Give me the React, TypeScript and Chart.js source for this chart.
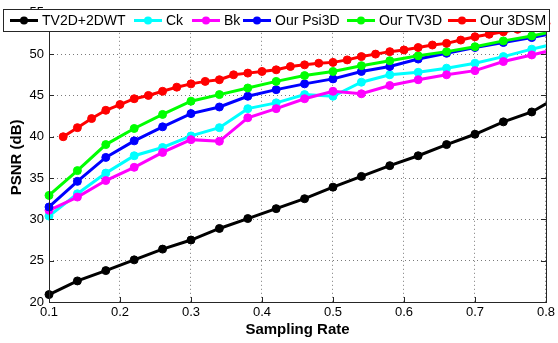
import React, { useEffect, useRef } from 'react';
import { Chart, registerables } from 'chart.js';

Chart.register(...registerables);

const FONT = '"Liberation Sans", Arial, Helvetica, sans-serif';

// Sampling rates (x) shared by the five 0.04-step series (last one lies just past the axis edge)
const rates = [0.10, 0.14, 0.18, 0.22, 0.26, 0.30, 0.34, 0.38, 0.42, 0.46, 0.50, 0.54, 0.58, 0.62, 0.66, 0.70, 0.74, 0.78, 0.82];
const tv2d2dwt = [20.9, 22.55, 23.8, 25.1, 26.4, 27.5, 28.9, 30.1, 31.3, 32.5, 33.9, 35.2, 36.5, 37.7, 39.05, 40.3, 41.8, 43.0, 45.0];
const ck = [30.4, 33.1, 35.6, 37.7, 38.7, 40.1, 41.1, 43.4, 44.1, 45.1, 44.9, 46.6, 47.5, 47.8, 48.3, 48.9, 49.7, 50.6, 51.4];
const bk = [31.1, 32.7, 34.7, 36.3, 38.1, 39.65, 39.45, 42.3, 43.4, 44.6, 45.5, 45.2, 46.2, 46.9, 47.5, 48.0, 49.1, 49.9, 50.7];
const psi3d = [31.5, 34.6, 37.5, 39.5, 41.2, 42.8, 43.6, 44.9, 45.7, 46.4, 47.0, 47.9, 48.5, 49.4, 50.1, 50.8, 51.4, 52.0, 52.7];
const tv3d = [32.9, 35.9, 39.05, 41.0, 42.7, 44.3, 45.1, 45.9, 46.7, 47.4, 47.9, 48.6, 49.2, 49.8, 50.3, 50.9, 51.6, 52.2, 52.9];

// Our 3DSM uses a 0.02 step starting at 0.12
const ratesSM = [0.12, 0.14, 0.16, 0.18, 0.20, 0.22, 0.24, 0.26, 0.28, 0.30, 0.32, 0.34, 0.36, 0.38, 0.40, 0.42, 0.44, 0.46, 0.48, 0.50, 0.52, 0.54, 0.56, 0.58, 0.60, 0.62, 0.64, 0.66, 0.68, 0.70, 0.72, 0.74, 0.76, 0.78, 0.80];
const sm3d = [40.0, 41.1, 42.2, 43.2, 43.9, 44.6, 45.0, 45.5, 46.0, 46.4, 46.7, 46.9, 47.5, 47.7, 47.9, 48.1, 48.5, 48.7, 48.9, 49.0, 49.3, 49.7, 50.0, 50.3, 50.5, 50.8, 51.1, 51.3, 51.7, 52.1, 52.4, 52.7, 53.0, 53.3, 53.7];

const seriesNames = ['TV2D+2DWT', 'Ck', 'Bk', 'Our Psi3D', 'Our TV3D', 'Our 3DSM'];
const seriesColors = ['#000000', '#00FFFF', '#FF00FF', '#0000FF', '#00FF00', '#FF0000'];
const seriesX = [rates, rates, rates, rates, rates, ratesSM];
const seriesY = [tv2d2dwt, ck, bk, psi3d, tv3d, sm3d];

const xTicks = [0.1, 0.2, 0.3, 0.4, 0.5, 0.6, 0.7, 0.8];
const yTicks = [20, 25, 30, 35, 40, 45, 50, 55];

const AXIS_COLOR = '#262626';

const framePlugin = {
  id: 'frameAndLegend',
  afterDraw(chart: any) {
    const { ctx, chartArea: a, scales } = chart;
    ctx.save();
    // axes box
    ctx.strokeStyle = AXIS_COLOR;
    ctx.lineWidth = 1;
    ctx.strokeRect(Math.round(a.left) + 0.5, Math.round(a.top) + 0.5, Math.round(a.right - a.left), Math.round(a.bottom - a.top));
    // inward tick marks
    const tl = 5;
    ctx.beginPath();
    xTicks.forEach((t) => {
      const px = Math.round(scales.x.getPixelForValue(t)) + 0.5;
      ctx.moveTo(px, a.bottom); ctx.lineTo(px, a.bottom - tl);
      ctx.moveTo(px, a.top); ctx.lineTo(px, a.top + tl);
    });
    yTicks.forEach((t) => {
      const py = Math.round(scales.y.getPixelForValue(t)) + 0.5;
      ctx.moveTo(a.left, py); ctx.lineTo(a.left + tl, py);
      ctx.moveTo(a.right, py); ctx.lineTo(a.right - tl, py);
    });
    ctx.stroke();

    // legend
    const boxL = 3.5, boxT = 9.5, boxW = 546, boxH = 22;
    ctx.fillStyle = '#ffffff';
    ctx.fillRect(boxL, boxT, boxW, boxH);
    ctx.strokeStyle = AXIS_COLOR;
    ctx.strokeRect(boxL, boxT, boxW, boxH);
    const starts = [10, 134, 192, 243, 347, 448];
    const cy = 20.5;
    const lineLen = 28;
    ctx.font = '14px ' + FONT;
    ctx.textBaseline = 'middle';
    ctx.textAlign = 'left';
    seriesNames.forEach((name, i) => {
      const x0 = starts[i];
      ctx.strokeStyle = seriesColors[i];
      ctx.lineWidth = 3;
      ctx.beginPath();
      ctx.moveTo(x0, cy);
      ctx.lineTo(x0 + lineLen, cy);
      ctx.stroke();
      ctx.fillStyle = seriesColors[i];
      ctx.beginPath();
      ctx.arc(x0 + lineLen / 2, cy, 4, 0, Math.PI * 2);
      ctx.fill();
      ctx.fillStyle = '#000000';
      ctx.fillText(name, x0 + lineLen + 4, cy + 1);
    });
    ctx.restore();
  },
};

export default function App() {
  const ref = useRef<HTMLCanvasElement>(null);
  useEffect(() => {
    const canvas = ref.current;
    if (!canvas) return;
    const n = seriesNames.length;
    const datasets = seriesNames.map((name, i) => ({
      label: name,
      data: seriesX[i].map((x, j) => ({ x, y: seriesY[i][j] })),
      borderColor: seriesColors[i],
      backgroundColor: seriesColors[i],
      pointBackgroundColor: seriesColors[i],
      pointBorderColor: seriesColors[i],
      borderWidth: 3,
      pointRadius: 4,
      pointBorderWidth: 1,
      tension: 0,
      fill: false,
      order: n - i,
      clip: i === 5 ? 6 : { left: 6, top: 6, right: 0, bottom: 6 },
    }));
    const chart = new Chart(canvas, {
      type: 'line',
      data: { datasets },
      options: {
        responsive: false,
        animation: false,
        devicePixelRatio: 1,
        layout: { padding: { left: 0, right: 10, top: 10, bottom: 0 } },
        plugins: { legend: { display: false }, tooltip: { enabled: false } },
        events: [],
        scales: {
          x: {
            type: 'linear',
            min: 0.1,
            max: 0.8,
            afterBuildTicks: (scale: any) => { scale.ticks = xTicks.map((v) => ({ value: v })); },
            afterFit: (scale: any) => { scale.height = 41; },
            ticks: {
              callback: (v: any) => Number(v).toFixed(1),
              font: { size: 13, family: FONT },
              color: '#000000',
              padding: 3,
              maxRotation: 0,
              autoSkip: false,
            },
            grid: { color: '#7a7a7a', lineWidth: 1, drawTicks: false },
            border: { display: false, dash: [1, 3] },
            title: {
              display: true,
              text: 'Sampling Rate',
              font: { size: 15, weight: 'bold', family: FONT },
              color: '#000000',
              padding: { top: 0, bottom: 4 },
            },
          },
          y: {
            type: 'linear',
            min: 20,
            max: 55,
            afterBuildTicks: (scale: any) => { scale.ticks = yTicks.map((v) => ({ value: v })); },
            afterFit: (scale: any) => { scale.width = 49; },
            ticks: {
              font: { size: 13, family: FONT },
              color: '#000000',
              padding: 5,
              autoSkip: false,
            },
            grid: { color: '#7a7a7a', lineWidth: 1, drawTicks: false },
            border: { display: false, dash: [1, 3] },
            title: {
              display: true,
              text: 'PSNR (dB)',
              font: { size: 15, weight: 'bold', family: FONT },
              color: '#000000',
              padding: { top: 8, bottom: 0 },
            },
          },
        },
      },
      plugins: [framePlugin],
    } as any);
    return () => chart.destroy();
  }, []);
  return (
    <div style={{ position: 'absolute', left: 0, top: 0, width: 558, height: 343, background: '#ffffff' }}>
      <canvas ref={ref} width={558} height={343} style={{ display: 'block', width: 558, height: 343 }} />
    </div>
  );
}
